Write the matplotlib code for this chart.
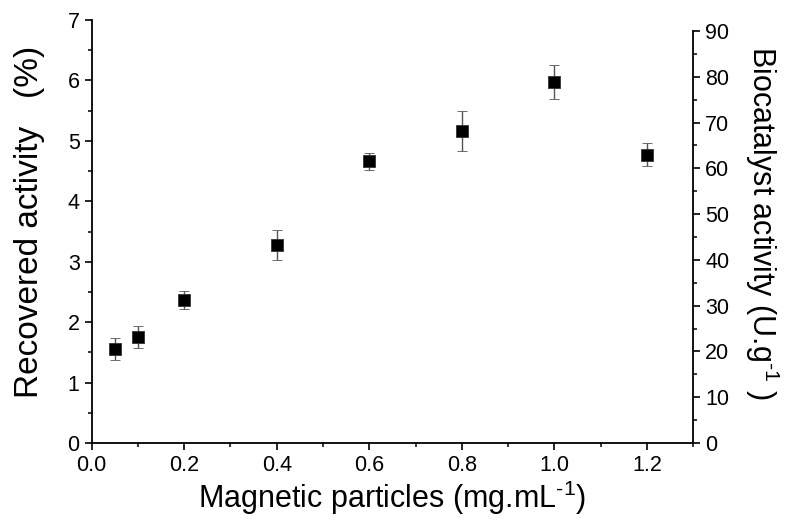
import matplotlib
matplotlib.use("Agg")
from matplotlib import pyplot as plt
from matplotlib.ticker import MultipleLocator, FormatStrFormatter

# particle concentration (mg/mL) vs recovered activity (%)
particles = [0.05, 0.1, 0.2, 0.4, 0.6, 0.8, 1.0, 1.2]
recovered = [1.55, 1.75, 2.37, 3.28, 4.66, 5.16, 5.97, 4.77]
recovered_err = [0.18, 0.18, 0.15, 0.25, 0.14, 0.33, 0.28, 0.19]

plt.rcParams['font.family'] = ['Liberation Sans', 'DejaVu Sans']
plt.rcParams['mathtext.fontset'] = 'custom'
plt.rcParams['mathtext.rm'] = 'Liberation Sans'
plt.rcParams['mathtext.it'] = 'Liberation Sans'

fig = plt.figure(figsize=(7.87, 5.21), dpi=100)
ax = fig.add_axes([0.1163, 0.1497, 0.7647, 0.8119])

ax.errorbar(particles, recovered, yerr=recovered_err, fmt='s', color='black',
            markersize=9, markeredgecolor='#333333', markeredgewidth=0.6,
            ecolor='#555555', elinewidth=1.0, capsize=3.5, capthick=1.0)

ax.set_xlim(0, 1.3)
ax.set_ylim(0, 7)
ax.xaxis.set_major_locator(MultipleLocator(0.2))
ax.xaxis.set_minor_locator(MultipleLocator(0.1))
ax.yaxis.set_major_locator(MultipleLocator(1))
ax.yaxis.set_minor_locator(MultipleLocator(0.5))
ax.xaxis.set_major_formatter(FormatStrFormatter('%.1f'))

for side in ['top', 'right']:
    ax.spines[side].set_visible(False)
for side in ['left', 'bottom']:
    ax.spines[side].set_linewidth(1.3)
ax.tick_params(which='major', direction='out', length=5, width=1.2, labelsize=15.5)
ax.tick_params(which='minor', direction='out', length=2.7, width=1.1)

ax.set_xlabel('Magnetic particles (mg.mL$^{\\text{-1}}$)', fontsize=22, labelpad=2)
ax.set_ylabel('Recovered activity   (%)', fontsize=24)
ax.yaxis.set_label_coords(-0.077, 0.522)

# second axis for biocatalyst activity, drawn a bit shorter like the original
ax2 = fig.add_axes([0.1163, 0.1497, 0.7647, 0.7908])
ax2.patch.set_visible(False)
for side in ['top', 'left', 'bottom']:
    ax2.spines[side].set_visible(False)
ax2.spines['right'].set_linewidth(1.3)
ax2.set_xticks([])
ax2.set_ylim(0, 90)
ax2.yaxis.tick_right()
ax2.yaxis.set_label_position('right')
ax2.yaxis.set_major_locator(MultipleLocator(10))
ax2.yaxis.set_minor_locator(MultipleLocator(5))
ax2.tick_params(which='major', direction='out', length=5, width=1.2, labelsize=15.5)
ax2.tick_params(which='minor', direction='out', length=2.7, width=1.1)
ax2.set_ylabel('Biocatalyst activity (U.g$^{\\text{-1}}$ )', fontsize=22, rotation=270)
ax2.yaxis.set_label_coords(1.146, 0.534)

fig.savefig('out.png', dpi=100)
